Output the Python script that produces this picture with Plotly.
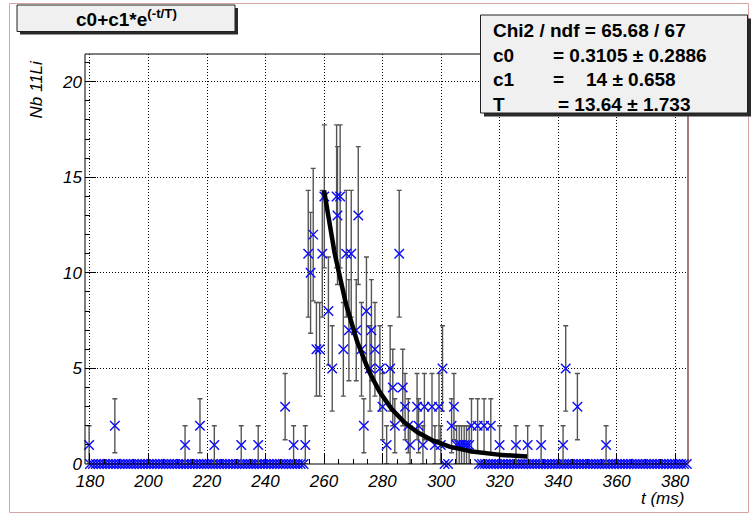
import numpy as np
import plotly.graph_objects as go

# ---- data: 11Li counts per time bin ----
# non-empty bins (time in ms, counts)
t_hits = [179.7, 188.5, 212.5, 217.6, 222.5, 231.7, 237.5, 246.7, 249.6, 253.6,
          254.6, 255.4, 256.3, 257.4, 258.5, 259.4, 260.1, 261.5, 262.8, 264.3,
          264.6, 265.5, 266.6, 267.6, 268.5, 269.3, 271.0, 271.7, 272.8, 273.6,
          274.5, 275.7, 276.2, 277.4, 279.1, 280.0, 281.4, 282.6, 283.5, 284.2,
          285.7, 286.9, 287.7, 288.8, 289.4, 291.8, 292.3, 293.8, 294.3, 296.9,
          297.9, 299.3, 299.9, 300.5, 303.6, 304.4, 305.3, 306.2, 307.0, 307.9,
          308.7, 309.6, 310.4, 312.5, 314.7, 317.0, 320.0, 325.6, 329.6, 334.2,
          341.7, 342.6, 346.6, 356.4]
n_hits = [1, 2, 1, 2, 1, 1, 1, 3, 1, 1,
          11, 10, 12, 6, 6, 11, 14, 8, 5, 14,
          13, 14, 6, 11, 7, 11, 7, 13, 6, 2,
          8, 5, 7, 6, 5, 3, 1, 5, 4, 2,
          11, 4, 3, 2, 1, 3, 2, 1, 3, 3,
          1, 3, 1, 5, 2, 3, 1, 1, 1, 1,
          1, 1, 2, 2, 2, 2, 1, 1, 1, 1,
          1, 5, 3, 1]
# empty bins (1 ms sampling)
t_empty = list(range(180, 254)) + [301.2, 302.4] + list(range(313, 385))
n_empty = [0] * len(t_empty)

# fit c0 + c1*exp(-(t - t0)/T)
C0, C0_ERR = 0.3105, 0.2886
C1, C1_ERR = 14.0, 0.658
TAU, TAU_ERR = 13.64, 1.733
FIT_T0, FIT_T1 = 260.0, 329.4
CHI2, NDF = 65.68, 67

x_ticks = [180, 200, 220, 240, 260, 280, 300, 320, 340, 360, 380]
y_ticks = [0, 5, 10, 15, 20]
X_RANGE = [178.3, 384.4]
Y_RANGE = [0, 21.45]

# ---- page geometry (pixels) ----
W, H = 752, 518
L, R, T, B = 85, 64, 54, 54
PW, PH = W - L - R, H - T - B

def px(x):
    return (x - L) / PW

def py(y):
    return (H - B - y) / PH

FONT = "Liberation Sans, Arial, Helvetica, sans-serif"
BLUE = "#0a0aff"
MARKER = dict(symbol="x-thin", size=9.5, line=dict(width=1.4, color=BLUE))

n_err = np.sqrt(np.array(n_hits, dtype=float))

fig = go.Figure()

fig.add_trace(go.Scatter(
    x=t_empty, y=n_empty, mode="markers", cliponaxis=False,
    marker=MARKER, hoverinfo="x+y", showlegend=False))

fig.add_trace(go.Scatter(
    x=t_hits, y=n_hits, mode="markers", cliponaxis=False,
    error_y=dict(type="data", array=n_err, visible=True,
                 color="#555555", thickness=1.4, width=2.5),
    marker=MARKER, hoverinfo="x+y", showlegend=False))

t_fit = np.linspace(FIT_T0, FIT_T1, 200)
y_fit = C0 + C1 * np.exp(-(t_fit - FIT_T0) / TAU)
fig.add_trace(go.Scatter(
    x=t_fit, y=y_fit, mode="lines",
    line=dict(color="black", width=4.5), hoverinfo="skip", showlegend=False))

grid = dict(showgrid=True, gridcolor="black", gridwidth=1, griddash="1px,2px")

fig.update_layout(
    width=W, height=H,
    margin=dict(l=L, r=R, t=T, b=B, pad=0),
    paper_bgcolor="white", plot_bgcolor="white",
    font=dict(family=FONT, color="black"),
    xaxis=dict(range=X_RANGE, tickvals=x_ticks, ticks="inside", ticklen=11,
               tickcolor="black", tickwidth=1, showline=False, zeroline=False,
               tickfont=dict(size=17, style="italic"), ticklabelstandoff=5,
               minor=dict(dtick=5, tick0=180, ticks="inside", ticklen=5,
                          tickcolor="black", showgrid=False),
               **grid),
    yaxis=dict(range=Y_RANGE, tickvals=y_ticks, ticks="inside", ticklen=11,
               tickcolor="black", tickwidth=1, showline=False, zeroline=False,
               tickfont=dict(size=17, style="italic"), ticklabelstandoff=2,
               minor=dict(dtick=1, tick0=0, ticks="inside", ticklen=5,
                          tickcolor="black", showgrid=False),
               **grid),
)

shapes = []
# canvas border
shapes.append(dict(type="rect", xref="paper", yref="paper",
                   x0=px(9.5), x1=px(748.5), y0=py(3.5), y1=py(512.5),
                   line=dict(color="#d4a4a4", width=1), layer="below"))
# plot frame
frame_line = dict(color="black", width=1)
shapes += [
    dict(type="line", xref="paper", yref="paper", x0=0, x1=1, y0=0, y1=0, line=frame_line),
    dict(type="line", xref="paper", yref="paper", x0=0, x1=1, y0=1, y1=1, line=frame_line),
    dict(type="line", xref="paper", yref="paper", x0=0, x1=0, y0=0, y1=1, line=frame_line),
    dict(type="line", xref="paper", yref="paper", x0=1, x1=1, y0=0, y1=1,
         line=dict(color="#6b2222", width=1.2)),
]

def box(x0, y0, x1, y1, off):
    # shadow then the box itself
    shapes.append(dict(type="rect", xref="paper", yref="paper",
                       x0=px(x0 + off), x1=px(x1 + off), y0=py(y0 + off), y1=py(y1 + off),
                       fillcolor="#2a2a2a", line=dict(width=0)))
    shapes.append(dict(type="rect", xref="paper", yref="paper",
                       x0=px(x0), x1=px(x1), y0=py(y0), y1=py(y1),
                       fillcolor="#f0f0f0", line=dict(color="#202020", width=1)))

box(17, 5, 235, 31.5, 3)
box(480.5, 15, 747.5, 113, 3.5)
fig.update_layout(shapes=shapes)

ann = []
def text(x, y, s, size, xanchor="left", bold=True, italic=False, angle=0, yanchor="middle"):
    f = dict(size=size, family=FONT, color="black")
    if italic:
        f["style"] = "italic"
    ann.append(dict(xref="paper", yref="paper", x=px(x), y=py(y),
                    text=("<b>%s</b>" % s) if bold else s, showarrow=False,
                    xanchor=xanchor, yanchor=yanchor, font=f, textangle=angle))

text(126, 18.5, "c0+c1*e<sup>(-t/T)</sup>", 19, xanchor="center")

text(491, 31, "Chi2 / ndf = %.2f / %d" % (CHI2, NDF), 19)
text(491, 55.5, "c0", 19)
text(551, 55.5, "= %.4f \u00b1 %.4f" % (C0, C0_ERR), 19)
text(491, 80, "c1", 19)
text(551, 80, "=", 19)
text(584, 80, "%g \u00b1 %.3f" % (C1, C1_ERR), 19)
text(491, 104, "T", 19)
text(556, 104, "= %.2f \u00b1 %.3f" % (TAU, TAU_ERR), 19)

text(36, 58, "Nb 11Li", 17, xanchor="center", bold=False, italic=True, angle=-90, yanchor="top")
text(686, 498, "t (ms)", 17, xanchor="right", bold=False, italic=True)

fig.update_layout(annotations=ann)

fig.write_html("out.html")
